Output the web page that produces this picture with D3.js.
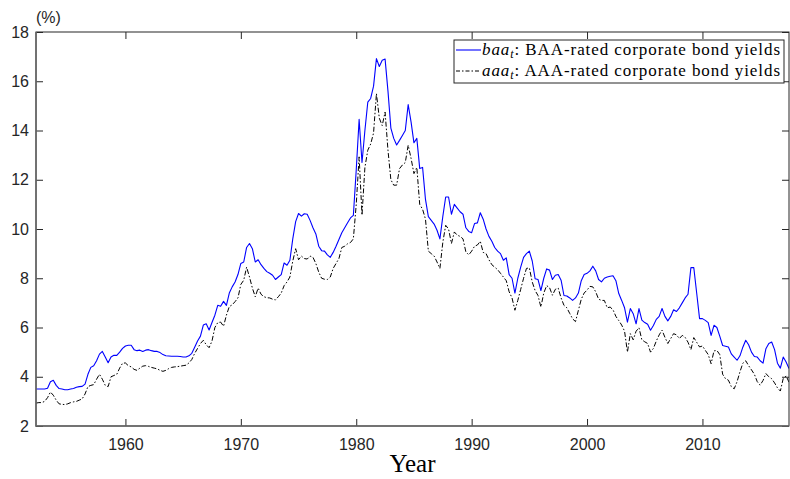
<!DOCTYPE html>
<html>
<head>
<meta charset="utf-8">
<script src="https://cdn.jsdelivr.net/npm/d3@7"></script>
<style>
  html, body { margin: 0; padding: 0; background: #fff; }
  svg { display: block; }
</style>
</head>
<body>
<svg id="chart" width="790" height="479"></svg>
<script>
// Moody's seasoned corporate bond yields (%), quarterly, 1952Q2 - 2017Q3
const startYear = 1952.25;
const step = 0.25;

const baa = [
  3.50, 3.50, 3.50,
  3.50, 3.53, 3.80, 3.86,
  3.65, 3.52, 3.50, 3.47,
  3.47, 3.50, 3.52, 3.57,
  3.60, 3.61, 3.70, 4.10,
  4.38, 4.45, 4.65, 4.92,
  5.03, 4.80, 4.57, 4.80,
  4.87, 4.87, 5.00, 5.15,
  5.25, 5.28, 5.28, 5.10,
  5.06, 5.08, 5.03, 5.08,
  5.10, 5.06, 5.03, 5.03,
  4.98, 4.90, 4.85, 4.84,
  4.83, 4.83, 4.83, 4.82,
  4.80, 4.80, 4.85, 4.95,
  5.20, 5.45, 5.65, 6.10,
  6.15, 5.90, 6.20, 6.50,
  6.90, 6.86, 7.06, 6.90,
  7.40, 7.65, 7.85, 8.15,
  8.60, 8.66, 9.25, 9.41,
  9.20, 8.66, 8.75, 8.55,
  8.40, 8.27, 8.20, 8.12,
  7.95, 8.05, 8.15, 8.62,
  8.53, 8.73, 9.60, 10.30,
  10.63, 10.52, 10.62, 10.60,
  10.35, 10.05, 9.80, 9.30,
  9.12, 9.10, 8.95, 8.85,
  9.05, 9.30, 9.57, 9.85,
  10.05, 10.25, 10.45, 10.55,
  12.40, 14.45, 12.70, 14.00,
  15.15, 15.30, 15.80, 16.92,
  16.60, 16.85, 16.90, 15.60,
  14.10, 13.68, 13.41, 13.60,
  13.80, 14.00, 15.05, 14.35,
  13.50, 13.68, 12.46, 12.50,
  11.20, 10.50, 10.35, 10.20,
  9.95, 9.60, 10.50, 11.30,
  11.30, 10.60, 11.00, 10.85,
  10.70, 10.60, 10.05, 9.90,
  9.85, 10.22, 10.25, 10.66,
  10.40, 10.00, 9.70, 9.50,
  9.25, 9.10, 9.00, 8.73,
  8.83, 8.15, 8.00, 7.40,
  8.00, 8.45, 8.85, 9.00,
  9.10, 8.70, 7.98, 7.95,
  7.50, 8.00, 8.38, 8.33,
  7.95, 8.12, 8.15, 7.92,
  7.30, 7.28, 7.20, 7.10,
  7.20, 7.40, 7.90, 8.15,
  8.20, 8.30, 8.49, 8.30,
  7.95, 7.85, 8.00, 8.05,
  8.08, 8.10, 7.90, 7.38,
  7.10, 6.80, 6.22, 6.77,
  6.56, 6.15, 6.77, 6.30,
  6.20, 6.13, 5.89, 6.08,
  6.33, 6.45, 6.77, 6.45,
  6.27, 6.45, 6.72, 6.65,
  6.80, 7.00, 7.20, 7.35,
  8.43, 8.43, 7.40, 6.36,
  6.36, 6.29, 6.20, 5.68,
  6.09, 6.00, 5.65, 5.27,
  5.24, 5.21, 4.93, 4.80,
  4.67, 4.85, 5.20, 5.48,
  5.30, 5.00, 4.82, 4.80,
  4.65, 4.55, 5.14, 5.35,
  5.41, 5.10, 4.55, 4.35,
  4.80, 4.60, 4.33
];

const aaa = [
  2.93, 2.95, 2.95,
  3.00, 3.15, 3.38, 3.25,
  3.05, 2.90, 2.88, 2.87,
  2.90, 2.95, 2.98, 3.00,
  3.05, 3.10, 3.30, 3.60,
  3.65, 3.68, 3.90, 4.10,
  3.90, 3.65, 3.60, 4.00,
  4.05, 4.10, 4.35, 4.55,
  4.56, 4.45, 4.40, 4.30,
  4.26, 4.35, 4.43, 4.45,
  4.42, 4.38, 4.35, 4.32,
  4.26, 4.22, 4.26, 4.33,
  4.38, 4.40, 4.41, 4.43,
  4.45, 4.47, 4.56, 4.70,
  4.95, 5.15, 5.35, 5.48,
  5.30, 5.18, 5.45, 6.00,
  6.20, 6.22, 6.05, 6.50,
  6.85, 6.92, 7.05, 7.20,
  7.75, 7.92, 8.45, 8.05,
  7.60, 7.25, 7.60, 7.35,
  7.25, 7.21, 7.20, 7.15,
  7.12, 7.25, 7.40, 7.70,
  7.85, 8.05, 8.70, 9.20,
  8.75, 8.90, 8.80, 8.78,
  8.90, 8.85, 8.60, 8.25,
  8.00, 7.96, 7.95, 8.05,
  8.40, 8.60, 8.80, 9.25,
  9.30, 9.40, 9.45, 9.60,
  11.00, 12.93, 10.56, 12.50,
  13.20, 13.45, 13.90, 15.50,
  14.50, 14.20, 14.75, 13.20,
  12.00, 11.78, 11.78, 12.45,
  12.60, 12.70, 13.40, 12.87,
  12.25, 12.50, 11.00, 10.80,
  10.40, 9.10, 9.00, 8.90,
  8.66, 8.40, 9.45, 10.15,
  10.00, 9.41, 9.88, 9.75,
  9.70, 9.60, 9.07, 8.95,
  9.10, 9.30, 9.35, 9.50,
  9.05, 9.00, 8.75, 8.55,
  8.45, 8.35, 8.20, 8.05,
  7.90, 7.45, 7.20, 6.70,
  7.10, 7.55, 8.00, 8.40,
  8.42, 7.85, 7.50, 7.30,
  6.83, 7.40, 7.70, 7.62,
  7.31, 7.55, 7.60, 7.20,
  6.90, 6.80, 6.57, 6.35,
  6.24, 6.70, 7.15, 7.40,
  7.52, 7.67, 7.65, 7.45,
  7.15, 7.10, 7.10, 6.80,
  6.83, 6.72, 6.45, 6.28,
  6.10, 5.85, 5.00, 5.75,
  5.50, 5.85, 5.99, 5.50,
  5.42, 5.35, 5.00, 5.15,
  5.45, 5.70, 5.89, 5.60,
  5.35, 5.55, 5.75, 5.70,
  5.55, 5.68, 5.60, 5.40,
  5.10, 5.59, 5.40, 5.21,
  5.25, 5.07, 4.90, 4.53,
  5.05, 5.07, 4.90, 4.10,
  3.92, 3.86, 3.60, 3.51,
  3.80, 4.20, 4.55, 4.65,
  4.45, 4.28, 4.10, 3.80,
  3.66, 3.85, 4.13, 4.00,
  3.92, 3.75, 3.55, 3.42,
  3.93, 4.03, 3.78
];

const quarters = d3.range(baa.length).map(i => startYear + i * step);
const xTicks = [1960, 1970, 1980, 1990, 2000, 2010];
const yTicks = [2, 4, 6, 8, 10, 12, 14, 16, 18];
const seriesLabels = [
  { name: "baa", sub: "t", text: ": BAA-rated corporate bond yields" },
  { name: "aaa", sub: "t", text: ": AAA-rated corporate bond yields" }
];

const svg = d3.select("#chart");
const margin = { left: 36, right: 1, top: 32, bottom: 53 };
const W = 790, H = 479;
const x0 = margin.left, x1 = W - margin.right;
const y0 = H - margin.bottom, y1 = margin.top;

const x = d3.scaleLinear().domain([quarters[0], quarters[quarters.length - 1]]).range([x0, x1]);
const y = d3.scaleLinear().domain([2, 18]).range([y0, y1]);

const axisColor = "#262626";
const tickFont = "'Liberation Sans', Arial, Helvetica, sans-serif";
const serifFont = "'Liberation Serif', 'Times New Roman', serif";

// clip region for the data lines
svg.append("defs").append("clipPath").attr("id", "plot-clip")
  .append("rect").attr("x", x0).attr("y", y1).attr("width", x1 - x0).attr("height", y0 - y1);

// data lines
const line = d3.line().x((d, i) => x(quarters[i])).y(d => y(d));
const lines = svg.append("g").attr("clip-path", "url(#plot-clip)");
lines.append("path").datum(baa)
  .attr("d", line).attr("fill", "none")
  .attr("stroke", "#0000ff").attr("stroke-width", 1.1)
  .attr("stroke-linejoin", "round");
lines.append("path").datum(aaa)
  .attr("d", line).attr("fill", "none")
  .attr("stroke", "#000").attr("stroke-width", 1)
  .attr("stroke-dasharray", "5,2,1.5,2");

// axes: ticks point inward on all four sides
const tickLen = 7;
function styleAxis(g) {
  g.select(".domain").remove();
  g.selectAll(".tick line").attr("stroke", axisColor).attr("stroke-width", 1);
  g.selectAll(".tick text").attr("fill", axisColor)
    .attr("font-family", tickFont).attr("font-size", 16);
}
svg.append("g").attr("transform", `translate(0,${y0})`)
  .call(d3.axisBottom(x).tickValues(xTicks).tickFormat(d3.format("d")).tickSize(-tickLen).tickPadding(13))
  .call(styleAxis);
svg.append("g").attr("transform", `translate(0,${y1})`)
  .call(d3.axisTop(x).tickValues(xTicks).tickFormat("").tickSize(-tickLen))
  .call(styleAxis);
svg.append("g").attr("transform", `translate(${x0},0)`)
  .call(d3.axisLeft(y).tickValues(yTicks).tickFormat(d3.format("d")).tickSize(-tickLen).tickPadding(7))
  .call(styleAxis);
svg.append("g").attr("transform", `translate(${x1},0)`)
  .call(d3.axisRight(y).tickValues(yTicks).tickFormat("").tickSize(-tickLen))
  .call(styleAxis);

// axes box: top/right thin, left/bottom slightly heavier grey
svg.append("rect")
  .attr("x", x0).attr("y", y1).attr("width", x1 - x0).attr("height", y0 - y1)
  .attr("fill", "none").attr("stroke", axisColor).attr("stroke-width", 1);
svg.append("path")
  .attr("d", `M${x0},${y1}V${y0}H${x1}`)
  .attr("fill", "none").attr("stroke", "#6a6a6a").attr("stroke-width", 1.6);

// unit label and axis title
svg.append("text").attr("x", x0).attr("y", 23)
  .attr("font-family", tickFont).attr("font-size", 16).attr("fill", axisColor)
  .text("(%)");
svg.append("text").attr("x", (x0 + x1) / 2).attr("y", 472)
  .attr("text-anchor", "middle")
  .attr("font-family", serifFont)
  .attr("font-size", 25).attr("fill", "#000")
  .text("Year");

// legend
const lg = svg.append("g");
const lx = 454, ly = 40, lw = 330, lh = 43;
lg.append("rect").attr("x", lx).attr("y", ly).attr("width", lw).attr("height", lh)
  .attr("fill", "#fff").attr("stroke", axisColor).attr("stroke-width", 1);
const rowY = [50, 71];
const styles = [
  { stroke: "#0000ff", width: 1.1, dash: null },
  { stroke: "#000", width: 1, dash: "4,2,1.5,2" }
];
const textLeft = lx + 28, textRight = lx + lw - 3;
seriesLabels.forEach((s, i) => {
  lg.append("line").attr("x1", lx + 2).attr("x2", lx + 27)
    .attr("y1", rowY[i]).attr("y2", rowY[i])
    .attr("stroke", styles[i].stroke).attr("stroke-width", styles[i].width)
    .attr("stroke-dasharray", styles[i].dash);
  const t = lg.append("text").attr("x", textLeft).attr("y", rowY[i] + 5)
    .attr("font-family", serifFont)
    .attr("font-size", 17).attr("fill", "#000");
  t.append("tspan").attr("font-style", "italic").text(s.name);
  t.append("tspan").attr("font-style", "italic").attr("font-size", 12).attr("dy", 3).text(s.sub);
  t.append("tspan").attr("dy", -3).text(s.text);
  // widen the label to fill the legend box
  const len = t.node().getComputedTextLength();
  const nChars = (s.name + s.sub + s.text).length;
  const extra = (textRight - textLeft - len) / nChars;
  if (extra > 0) t.attr("letter-spacing", extra.toFixed(2));
});
</script>
</body>
</html>
